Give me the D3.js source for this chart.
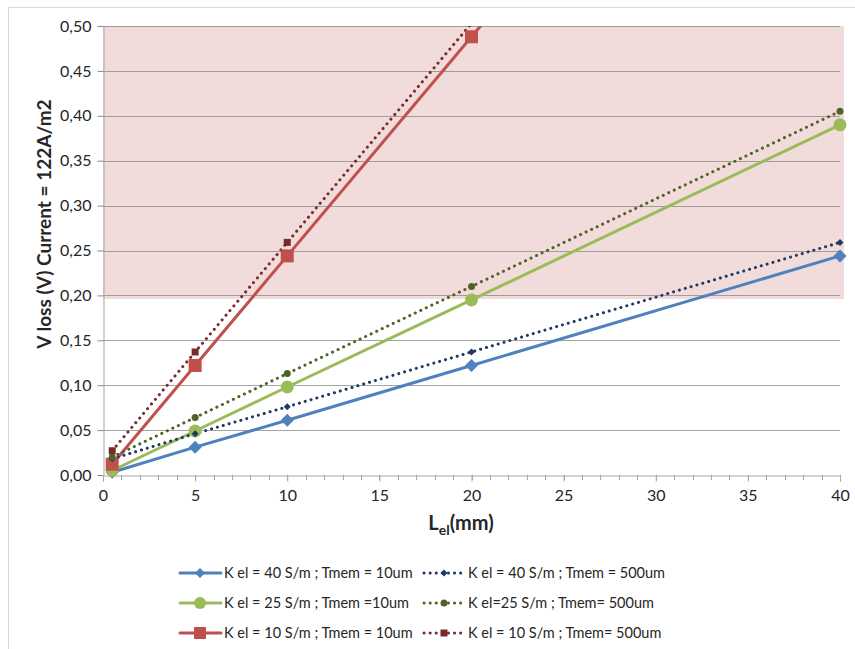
<!DOCTYPE html>
<html><head><meta charset="utf-8">
<script src="https://cdn.jsdelivr.net/npm/d3@7"></script>
<style>
html,body{margin:0;padding:0;background:#fff;}
svg{display:block;}
text{font-family:Lato,"Open Sans",sans-serif;}
</style></head>
<body>
<svg id="chart" width="855" height="649"></svg>
<script>
// ---- data ----
const xValues = [0.5, 5, 10, 20, 40];
const xTicks = [0, 5, 10, 15, 20, 25, 30, 35, 40];
const yTicks = [0, 0.05, 0.10, 0.15, 0.20, 0.25, 0.30, 0.35, 0.40, 0.45, 0.50];
const k40t10 = [0.003, 0.031, 0.061, 0.122, 0.244];
const k40t500 = [0.018, 0.046, 0.076, 0.137, 0.259];
const k25t10 = [0.005, 0.049, 0.098, 0.195, 0.390];
const k25t500 = [0.020, 0.064, 0.113, 0.210, 0.405];
const k10t10 = [0.012, 0.122, 0.244, 0.488, 0.976];
const k10t500 = [0.027, 0.137, 0.259, 0.503, 0.991];
const seriesNames = [
  "K el = 40 S/m ; Tmem = 10um",
  "K el = 40 S/m ; Tmem = 500um",
  "K el = 25 S/m ; Tmem =10um",
  "K el=25 S/m ; Tmem= 500um",
  "K el = 10 S/m ; Tmem = 10um",
  "K el = 10 S/m ; Tmem= 500um"
];
const bandRange = [0.196, 0.5];

const series = [
  {name: seriesNames[0], values: k40t10, color: "#4f81bd", dotted: false, shape: "diamond", size: 13},
  {name: seriesNames[1], values: k40t500, color: "#1f3864", dotted: true, shape: "diamond", size: 7},
  {name: seriesNames[2], values: k25t10, color: "#9bbb59", dotted: false, shape: "circle", size: 13},
  {name: seriesNames[3], values: k25t500, color: "#4f6228", dotted: true, shape: "circle", size: 7},
  {name: seriesNames[4], values: k10t10, color: "#c0504d", dotted: false, shape: "square", size: 13},
  {name: seriesNames[5], values: k10t500, color: "#772c2a", dotted: true, shape: "square", size: 7}
];

const svg = d3.select("#chart");
const L = 103, R = 840, T = 26, B = 475;
const x = d3.scaleLinear().domain([0, 40]).range([L, R]);
const y = d3.scaleLinear().domain([0, 0.5]).range([B, T]);
const fmt = v => d3.format(".2f")(v).replace(".", ",");

// outer frame
svg.append("rect").attr("x", 8.5).attr("y", 7.5).attr("width", 900).attr("height", 700)
  .attr("fill", "#fff").attr("stroke", "#d9d9d9").attr("stroke-width", 1);

// pink band
svg.append("rect")
  .attr("x", x(0)).attr("y", y(bandRange[1]))
  .attr("width", x(40) - x(0) + 4).attr("height", y(bandRange[0]) - y(bandRange[1]))
  .attr("fill", "#f2dcdb");

// gridlines
svg.append("g").selectAll("line").data(yTicks.slice(1)).join("line")
  .attr("x1", L).attr("x2", R)
  .attr("y1", d => Math.round(y(d)) + 0.5).attr("y2", d => Math.round(y(d)) + 0.5)
  .attr("stroke", "#7f7f7f").attr("stroke-opacity", 0.7).attr("stroke-width", 1);

// y axis
const yAxis = d3.axisLeft(y).tickValues(yTicks).tickFormat(fmt).tickSize(6).tickPadding(6);
const gy = svg.append("g").attr("transform", `translate(${L + 0.5},0)`).call(yAxis);
gy.select(".domain").attr("stroke", "#a6a6a6");
gy.selectAll(".tick line").attr("stroke", "#8c8c8c");
gy.selectAll(".tick text").attr("font-size", 16).attr("fill", "#262626").attr("font-family", "Lato,sans-serif");

// x axis minor ticks
const minor = d3.range(0, 41, 1);
svg.append("g").selectAll("line").data(minor).join("line")
  .attr("x1", d => Math.round(x(d)) + 0.5).attr("x2", d => Math.round(x(d)) + 0.5)
  .attr("y1", B).attr("y2", B + 5).attr("stroke", "#a6a6a6");
const xAxis = d3.axisBottom(x).tickValues(xTicks).tickFormat(d3.format("d")).tickSize(6).tickPadding(8);
const gx = svg.append("g").attr("transform", `translate(0,${B + 0.5})`).call(xAxis);
gx.select(".domain").attr("stroke", "#a6a6a6");
gx.selectAll(".tick line").attr("stroke", "#a6a6a6");
gx.selectAll(".tick text").attr("font-size", 16).attr("fill", "#262626").attr("font-family", "Lato,sans-serif");

// clip
svg.append("clipPath").attr("id", "clip").append("rect")
  .attr("x", L - 10).attr("y", T).attr("width", R - L + 20).attr("height", B - T + 10);

const line = d3.line().x((d, i) => x(xValues[i])).y(d => y(d));
const plot = svg.append("g").attr("clip-path", "url(#clip)");

function marker(g, shape, size, color) {
  if (shape === "diamond") {
    const s = size / 2;
    g.append("path").attr("d", `M0,${-s}L${s},0L0,${s}L${-s},0Z`).attr("fill", color);
  } else if (shape === "circle") {
    g.append("circle").attr("r", size / 2).attr("fill", color);
  } else {
    g.append("rect").attr("x", -size / 2).attr("y", -size / 2).attr("width", size).attr("height", size).attr("fill", color);
  }
}

// draw solid lines first, then dotted
const order = [0, 2, 4, 1, 3, 5];
order.forEach(k => {
  const s = series[k];
  plot.append("path").datum(s.values).attr("d", line)
    .attr("fill", "none").attr("stroke", s.color)
    .attr("stroke-width", 3)
    .attr("stroke-linecap", "round")
    .attr("stroke-dasharray", s.dotted ? "0.1,6" : null);
});
order.forEach(k => {
  const s = series[k];
  s.values.forEach((v, i) => {
    if (y(v) < T - 2) return;
    const g = plot.append("g").attr("transform", `translate(${x(xValues[i])},${y(v)})`);
    marker(g, s.shape, s.size, s.color);
  });
});

// axis titles
svg.append("text").attr("transform", `translate(51,224) rotate(-90)`)
  .attr("text-anchor", "middle").attr("font-size", 19).attr("font-weight", "bold").attr("fill", "#262626")
  .text("V loss (V) Current = 122A/m2");
const xt = svg.append("text").attr("x", 461).attr("y", 530).attr("text-anchor", "middle")
  .attr("font-size", 20).attr("font-weight", "bold").attr("fill", "#262626");
xt.append("tspan").text("L");
xt.append("tspan").attr("font-size", 14).attr("dy", 5).text("el");
xt.append("tspan").attr("dy", -5).text("(mm)");

// legend
const legendPos = [
  {lx: 180, ly: 573}, {lx: 424, ly: 573},
  {lx: 180, ly: 603}, {lx: 424, ly: 603},
  {lx: 180, ly: 633}, {lx: 424, ly: 633}
];
series.forEach((s, k) => {
  const p = legendPos[k];
  const g = svg.append("g").attr("transform", `translate(${p.lx},${p.ly})`);
  g.append("line").attr("x1", 0).attr("x2", s.dotted ? 39 : 41).attr("y1", 0).attr("y2", 0)
    .attr("stroke", s.color).attr("stroke-width", 3).attr("stroke-linecap", "round")
    .attr("stroke-dasharray", s.dotted ? "0.1,6" : null);
  const m = g.append("g").attr("transform", `translate(20,0)`);
  marker(m, s.shape, s.dotted ? 7 : (s.shape === "diamond" ? 10 : 12), s.color);
  g.append("text").attr("x", 44).attr("y", 5).attr("font-size", 14.5)
    .attr("fill", "#262626").text(s.name);
});
</script>
</body></html>
